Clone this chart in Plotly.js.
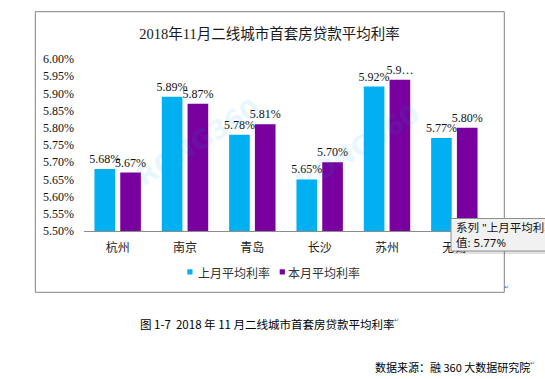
<!DOCTYPE html>
<html>
<head>
<meta charset="utf-8">
<script src="https://cdn.plot.ly/plotly-3.0.1.min.js"></script>
<style>
  html, body { margin: 0; padding: 0; background: #fff; }
  #chart { width: 545px; height: 379px; }
</style>
</head>
<body>
<div id="chart"></div>
<script>
// ---- data ----
const categories = ['杭州', '南京', '青岛', '长沙', '苏州', '无锡'];
const lastMonth = [5.68, 5.89, 5.78, 5.65, 5.92, 5.77];   // 上月平均利率 (%)
const thisMonth = [5.67, 5.87, 5.81, 5.70, 5.94, 5.80];   // 本月平均利率 (%)
const seriesNames = ['上月平均利率', '本月平均利率'];
const yTicks = [5.50, 5.55, 5.60, 5.65, 5.70, 5.75, 5.80, 5.85, 5.90, 5.95, 6.00];
const chartTitle = '2018年11月二线城市首套房贷款平均利率';
const captionText = '图 1-7  2018 年 11 月二线城市首套房贷款平均利率';
const sourceText = '数据来源：融 360 大数据研究院';

// labels (the 苏州 label of this month is truncated in the original)
const lastLabels = lastMonth.map(v => v.toFixed(2) + '%');
const thisLabels = thisMonth.map(v => v.toFixed(2) + '%');
thisLabels[4] = '5.9…';
const yTickText = yTicks.map(v => v.toFixed(2) + '%');

// ---- layout geometry helpers (pixel -> paper) ----
const M = {l: 84, r: 57, t: 59, b: 148};
const W = 545 - M.l - M.r, H = 379 - M.t - M.b;
const fx = px => (px - M.l) / W;
const fy = py => (379 - M.b - py) / H;

const BLUE = '#00B0F0', PURPLE = '#77009E';
const SERIF = 'Liberation Serif, Noto Sans CJK SC, serif';
const SANS = 'Noto Sans CJK SC, Noto Sans, sans-serif';

const traces = [
  {
    type: 'bar', name: seriesNames[0], x: categories, y: lastMonth,
    marker: {color: BLUE}, text: lastLabels, textposition: 'outside',
    constraintext: 'none', cliponaxis: false,
    textfont: {family: SERIF, size: 12, color: '#111'}, showlegend: false
  },
  {
    type: 'bar', name: seriesNames[1], x: categories, y: thisMonth,
    marker: {color: PURPLE}, text: thisLabels, textposition: 'outside',
    constraintext: 'none', cliponaxis: false,
    textfont: {family: SERIF, size: 12, color: '#111'}, showlegend: false
  }
];

const wm = {family: 'DejaVu Sans', size: 26, color: 'rgba(0,176,240,0.11)', weight: 'bold'};

const layout = {
  width: 545, height: 379,
  margin: M,
  paper_bgcolor: '#fff', plot_bgcolor: 'rgba(0,0,0,0)',
  barmode: 'group', bargap: 0.234, bargroupgap: 0.2,
  showlegend: false,
  title: {
    text: chartTitle, font: {family: SERIF, size: 14.5, color: '#1a1a1a'},
    x: 269.5 / 545, xanchor: 'center', xref: 'container',
    y: 1 - 33.5 / 379, yanchor: 'middle', yref: 'container'
  },
  xaxis: {
    type: 'category', showgrid: false, zeroline: false,
    showline: true, linecolor: '#8c8c8c', linewidth: 1,
    ticks: '', ticklabelstandoff: 6,
    tickfont: {family: SERIF, size: 12, color: '#222'}
  },
  yaxis: {
    range: [5.5, 6.0], tickmode: 'array', tickvals: yTicks, ticktext: yTickText,
    showgrid: false, zeroline: false, showline: false, ticks: '',
    ticklabelstandoff: 9,
    tickfont: {family: SERIF, size: 12, color: '#111'}
  },
  shapes: [
    // outer chart frame
    {type: 'rect', xref: 'paper', yref: 'paper', layer: 'below',
     x0: fx(35.3), x1: fx(504.3), y0: fy(292.3), y1: fy(11.7),
     line: {color: '#828282', width: 1}},
    // legend swatches
    {type: 'rect', xref: 'paper', yref: 'paper', x0: fx(187.3), x1: fx(192.5), y0: fy(274.5), y1: fy(269.3),
     fillcolor: BLUE, line: {width: 0}},
    {type: 'rect', xref: 'paper', yref: 'paper', x0: fx(279.7), x1: fx(284.9), y0: fy(274.5), y1: fy(269.3),
     fillcolor: PURPLE, line: {width: 0}},
    // tooltip shadow + box
    {type: 'rect', xref: 'paper', yref: 'paper', layer: 'above',
     x0: fx(453), x1: fx(570), y0: fy(254), y1: fy(221),
     fillcolor: 'rgba(0,0,0,0.12)', line: {width: 0}},
    {type: 'rect', xref: 'paper', yref: 'paper', layer: 'above',
     x0: fx(451), x1: fx(570), y0: fy(251), y1: fy(218.5),
     fillcolor: '#f1f1f1', line: {color: '#8f8f8f', width: 1}}
  ],
  annotations: [
    // watermarks
    {xref: 'paper', yref: 'paper', x: fx(128), y: fy(142), text: 'RONG360', showarrow: false,
     textangle: -32, font: wm},
    {xref: 'paper', yref: 'paper', x: fx(428), y: fy(148), text: 'RONG360', showarrow: false,
     textangle: -32, font: wm},
    // legend labels
    {xref: 'paper', yref: 'paper', x: fx(195.5), y: fy(273), xanchor: 'left', yanchor: 'middle',
     text: seriesNames[0], showarrow: false, font: {family: SERIF, size: 12, color: '#333'}},
    {xref: 'paper', yref: 'paper', x: fx(286), y: fy(273), xanchor: 'left', yanchor: 'middle',
     text: seriesNames[1], showarrow: false, font: {family: SERIF, size: 12, color: '#333'}},
    // tooltip
    {xref: 'paper', yref: 'paper', x: fx(453.5), y: fy(235), xanchor: 'left', yanchor: 'middle',
     align: 'left', text: '系列 "' + seriesNames[0] + '" 点 "' + categories[5] + '"<br>值: ' + lastLabels[5],
     showarrow: false, font: {family: 'Noto Sans, Noto Sans CJK SC, sans-serif', size: 11.5, color: '#111'}},
    // caption & source
    {xref: 'paper', yref: 'paper', x: fx(267.5), y: fy(324), xanchor: 'center', yanchor: 'middle',
     text: captionText, showarrow: false, font: {family: SANS, size: 11.5, color: '#000'}},
    {xref: 'paper', yref: 'paper', x: fx(532), y: fy(366.5), xanchor: 'right', yanchor: 'middle',
     text: sourceText, showarrow: false, font: {family: SANS, size: 11, color: '#000'}},
    // paragraph marks
    {xref: 'paper', yref: 'paper', x: fx(511), y: fy(291.5), text: '↵', showarrow: false,
     font: {family: 'DejaVu Sans', size: 6, color: '#2f6fe0'}},
    {xref: 'paper', yref: 'paper', x: fx(401), y: fy(325), text: '↵', showarrow: false,
     font: {family: 'DejaVu Sans', size: 6, color: '#2f6fe0'}},
    {xref: 'paper', yref: 'paper', x: fx(537), y: fy(367.5), text: '↵', showarrow: false,
     font: {family: 'DejaVu Sans', size: 6, color: '#2f6fe0'}}
  ]
};

Plotly.newPlot('chart', traces, layout, {displayModeBar: false, staticPlot: true});
</script>
</body>
</html>
